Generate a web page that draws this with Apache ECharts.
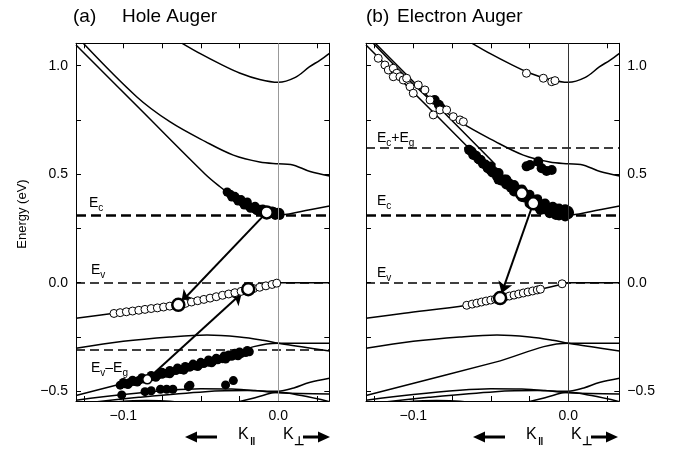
<!DOCTYPE html>
<html><head><meta charset="utf-8">
<script src="https://cdn.jsdelivr.net/npm/echarts@6/dist/echarts.min.js"></script>
<style>html,body{margin:0;padding:0;background:#fff}#c{width:678px;height:450px}</style>
</head><body><div id="c"></div><script>
const FONT = '"Liberation Sans", Arial, Helvetica, sans-serif';
// axis ranges and ticks
const xRange = [-0.1305, 0.0329];
const yRange = [-0.545, 1.103];
const xTickVals = [-0.125, -0.1, -0.075, -0.05, -0.025, 0, 0.025];
const xLabelVals = [-0.1, 0];
const yTickVals = [-0.5, -0.25, 0, 0.25, 0.5, 0.75, 1.0];
const yLabelVals = [-0.5, 0, 0.5, 1.0];
// reference levels (eV)
const levelEc = 0.312;
const levelEv = 0;
const levelEvEg = -0.312;
const levelEcEg = 0.624;
// band structure curves [k, E]
const bandTop = [[-0.062,1.103],[-0.05,1.054],[-0.0376,1.008],[-0.025,0.966],[-0.012,0.936],[0,0.923],[0.011,0.946],[0.02,0.994],[0.027,1.026],[0.033,1.057]];
const bandMid = [[-0.1258,1.103],[-0.0914,0.857],[-0.07,0.742],[-0.047,0.65],[-0.029,0.588],[-0.012,0.556],[0,0.548],[0.008,0.545],[0.0205,0.512],[0.033,0.492]];
const bandCond = [[-0.1305,1.095],[-0.0892,0.8],[-0.0473,0.501],[-0.0376,0.442],[-0.0292,0.396],[-0.0183,0.343],[-0.0075,0.32],[0,0.312],[0.014,0.327],[0.033,0.353]];
const bandQ = [[-0.1245,1.103],[-0.058,0.624],[-0.047,0.545]];
const bandV1 = [[-0.1305,-0.164],[-0.106,-0.141],[-0.0655,-0.104],[-0.044,-0.071],[-0.018,-0.03],[0,0]];
const bandV1r = [[0,0],[0.033,0]];
const bandV2 = [[-0.1305,-0.302],[-0.1,-0.27],[-0.07,-0.25],[-0.046,-0.241],[-0.025,-0.25],[-0.01,-0.265],[0,-0.279],[0.015,-0.295],[0.033,-0.315]];
const bandV3 = [[-0.1305,-0.52],[-0.047,-0.366],[0,-0.279],[0.033,-0.279]];
const bandV4 = [[-0.1305,-0.541],[-0.1,-0.515],[-0.07,-0.495],[-0.05,-0.488],[-0.03,-0.49],[-0.015,-0.497],[0,-0.507],[0.033,-0.513]];
const bandV5 = [[-0.126,-0.556],[-0.09,-0.528],[-0.047,-0.502],[-0.02,-0.497],[0,-0.5],[0.01,-0.485],[0.02,-0.46],[0.033,-0.44]];
const bandV6 = [[-0.032,-0.56],[-0.015,-0.53],[0,-0.505],[0.015,-0.52],[0.033,-0.548]];
const bandV7 = [[-0.112,-0.56],[-0.1,-0.546],[-0.085,-0.543],[-0.07,-0.546],[-0.058,-0.56]];

// Panel (a) Hole Auger carriers
const aElectrons = [[-0.033,0.418],[-0.031,0.408],[-0.029,0.398],[-0.027,0.388],[-0.025,0.378],[-0.023,0.369],[-0.021,0.36],[-0.019,0.352],[-0.017,0.345],[-0.015,0.339],[-0.013,0.334],[-0.011,0.33],[-0.009,0.327],[-0.007,0.324],[-0.005,0.321],[-0.003,0.318],[-0.001,0.316],[0.001,0.316],
  [-0.03,0.395],[-0.026,0.376],[-0.022,0.358],[-0.018,0.343],[-0.014,0.332],[-0.01,0.322],[-0.006,0.316],[-0.002,0.31],[0.001,0.31],
  [-0.02,0.372],[-0.015,0.352],[-0.01,0.34],[-0.004,0.33],[0,0.325],
  [-0.008,0.333],[-0.003,0.328],[0.001,0.322],[-0.012,0.338],[-0.024,0.383],[-0.028,0.398]];
const aHolesV1 = [[-0.106,-0.1417],[-0.102,-0.138],[-0.098,-0.134],[-0.094,-0.1305],[-0.09,-0.127],[-0.086,-0.123],[-0.082,-0.119],[-0.078,-0.116],[-0.074,-0.112],[-0.07,-0.108],[-0.066,-0.1045],
  [-0.06,-0.0955],[-0.056,-0.089],[-0.052,-0.083],[-0.048,-0.077],[-0.044,-0.071],[-0.04,-0.0645],[-0.036,-0.058],[-0.032,-0.052],[-0.028,-0.046],[-0.024,-0.04],[-0.016,-0.027],[-0.012,-0.021],[-0.008,-0.0145],[-0.004,-0.008],[-0.001,-0.002]];
const aHolesDeep = [[-0.102,-0.472],[-0.099,-0.466],[-0.096,-0.461],[-0.093,-0.455],[-0.09,-0.45],[-0.087,-0.444],[-0.081,-0.433],[-0.078,-0.428],[-0.075,-0.422],[-0.072,-0.417],[-0.069,-0.411],[-0.066,-0.405],[-0.063,-0.4],[-0.06,-0.394],[-0.057,-0.389],[-0.054,-0.383],[-0.051,-0.378],[-0.048,-0.372],[-0.045,-0.366],[-0.042,-0.361],[-0.039,-0.355],[-0.036,-0.35],[-0.033,-0.344],[-0.03,-0.339],[-0.027,-0.333],[-0.024,-0.327],[-0.021,-0.322],[-0.0187,-0.318],
  [-0.075,-0.412],[-0.065,-0.393],[-0.055,-0.375],[-0.045,-0.356],[-0.035,-0.338],[-0.028,-0.325],
  [-0.1,-0.46],[-0.094,-0.449],[-0.088,-0.438],[-0.082,-0.427],[-0.07,-0.404],[-0.06,-0.386],[-0.05,-0.367],[-0.04,-0.348],[-0.032,-0.333],[-0.025,-0.319],[-0.02,-0.312],
  [-0.097,-0.469],[-0.091,-0.458],[-0.079,-0.436],[-0.07,-0.42],[-0.061,-0.403],[-0.052,-0.386],[-0.043,-0.369],[-0.034,-0.352],[-0.026,-0.337],
  [-0.101,-0.517],[-0.086,-0.502],[-0.082,-0.498],[-0.076,-0.491],[-0.072,-0.491],[-0.068,-0.491],[-0.058,-0.479],[-0.057,-0.472],[-0.034,-0.471],[-0.029,-0.451]];
const aBigOpen = [[-0.0075,0.324],[-0.0645,-0.102],[-0.0194,-0.03]];
const aSmallOpen = [[-0.0845,-0.445]];
const aArrows = [[[-0.0075,0.324],[-0.0625,-0.088]],[[-0.0845,-0.445],[-0.0236,-0.049]]];

// Panel (b) Electron Auger carriers
const bElectrons = [[-0.064,0.612],[-0.061,0.591],[-0.058,0.57],[-0.055,0.548],[-0.052,0.527],[-0.049,0.508],[-0.046,0.489],[-0.043,0.47],[-0.04,0.453],[-0.037,0.438],[-0.034,0.424],[-0.031,0.41],[-0.028,0.392],[-0.025,0.377],[-0.022,0.362],[-0.019,0.349],[-0.016,0.339],[-0.013,0.332],[-0.01,0.327],[-0.007,0.322],[-0.004,0.318],[-0.001,0.316],
  [-0.05,0.535],[-0.045,0.505],[-0.04,0.475],[-0.035,0.45],[-0.03,0.43],[-0.025,0.405],[-0.02,0.385],[-0.015,0.365],[-0.01,0.35],[-0.006,0.342],[-0.002,0.338],[0,0.33],
  [-0.045,0.475],[-0.035,0.42],[-0.025,0.365],[-0.018,0.335],[-0.012,0.32],[-0.006,0.31],[-0.002,0.305],[0,0.315],
  [-0.0625,0.605],[-0.0595,0.585],[-0.0565,0.565],[-0.0535,0.545],[-0.0475,0.51],[-0.0415,0.475],[-0.0385,0.46],[-0.0325,0.43],[-0.0295,0.415],[-0.0265,0.4],[-0.0235,0.385],[-0.0205,0.37],[-0.0175,0.36],[-0.0145,0.35],[-0.0115,0.342],[-0.0085,0.335],[-0.0055,0.328],[-0.0025,0.325],[0.0005,0.322],[-0.03,0.395],[-0.02,0.352],[-0.008,0.312],
  [-0.0613,0.588],[-0.057,0.565],[-0.0503,0.52],
  [-0.0247,0.542],[-0.0269,0.536],[-0.0194,0.558],[-0.0172,0.527],[-0.014,0.515],[-0.0107,0.519],
  [-0.0862,0.842],[-0.082,0.804],[-0.0835,0.82]];
const bHot = [[-0.1226,1.034],[-0.1183,1.003],[-0.1161,0.98],[-0.1129,0.988],[-0.1107,0.965],[-0.1129,0.949],[-0.1086,0.949],[-0.1065,0.934],[-0.1043,0.942],[-0.1021,0.903],[-0.1,0.873],[-0.0968,0.911],[-0.0925,0.888],[-0.0892,0.842],[-0.0871,0.773],[-0.0828,0.796],[-0.0785,0.796],[-0.0742,0.765],[-0.0699,0.75],[-0.0677,0.742],
  [-0.027,0.965],[-0.0161,0.942],[-0.0107,0.926],[-0.0086,0.931]];
const bHolesV1 = [[-0.0655,-0.104],[-0.062,-0.0985],[-0.059,-0.094],[-0.056,-0.089],[-0.053,-0.0845],[-0.05,-0.08],[-0.047,-0.0753],[-0.041,-0.066],[-0.038,-0.0614],[-0.035,-0.057],[-0.032,-0.052],[-0.029,-0.0474],[-0.026,-0.0427],[-0.023,-0.038],[-0.02,-0.0335],[-0.018,-0.03],[-0.004,-0.005]];
const bBigOpen = [[-0.030,0.412],[-0.0226,0.366],[-0.044,-0.071]];
const bArrows = [[[-0.0226,0.366],[-0.043,-0.048]]];

const fmt = v => (Math.abs(v) < 1e-9 ? '0.0' : (v < 0 ? '\u2212' : '') + Math.abs(v).toFixed(1));

function xAx(gi, pos) {
  return {type:'value', gridIndex:gi, position:pos, min:xRange[0], max:xRange[1],
    axisLine:{show:true, onZero:false, lineStyle:{color:'#000', width:1}},
    axisTick:{show:true, inside:true, length:5, customValues:xTickVals, lineStyle:{color:'#000'}},
    axisLabel:{show: pos === 'bottom', customValues:xLabelVals, formatter:fmt, margin:8, fontSize:14, color:'#000', fontFamily:FONT},
    splitLine:{show:false}};
}
function yAx(gi, pos, labels) {
  return {type:'value', gridIndex:gi, position:pos, min:yRange[0], max:yRange[1],
    axisLine:{show:true, onZero:false, lineStyle:{color:'#000', width:1}},
    axisTick:{show:true, inside:true, length:5, customValues:yTickVals, lineStyle:{color:'#000'}},
    axisLabel:{show: labels, customValues:yLabelVals, formatter:fmt, margin:8, fontSize:14, color:'#000', fontFamily:FONT},
    splitLine:{show:false}};
}

function band(gi, data, z) {
  return {type:'line', xAxisIndex:gi*2, yAxisIndex:gi*2, data:data, smooth:0.35, symbol:'none', showSymbol:false,
    lineStyle:{color:'#000', width:1.5}, silent:true, z: z || 2};
}
function dots(gi, data, size, open, bw, z) {
  return {type:'scatter', xAxisIndex:gi*2, yAxisIndex:gi*2, data:data, symbol:'circle', symbolSize:size, silent:true,
    itemStyle: open ? {color:'#fff', borderColor:'#000', borderWidth:bw, opacity:1} : {color:'#000', opacity:1}, z:z};
}
function levels(gi, lines, vColor) {
  const d = lines.map(l => ({yAxis:l.v, lineStyle:{type:l.dash, width:l.w, color:'#000'}}));
  d.push({xAxis:0, lineStyle:{type:'solid', width:1, color:vColor}});
  return {type:'line', xAxisIndex:gi*2, yAxisIndex:gi*2, data:[], z:1, silent:true,
    markLine:{silent:true, animation:false, symbol:['none','none'], label:{show:false}, data:d}};
}
function arrows(gi, list) {
  return {type:'line', xAxisIndex:gi*2, yAxisIndex:gi*2, data:[], z:8, silent:true,
    markLine:{silent:true, animation:false, symbol:['none','arrow'], symbolSize:11, label:{show:false},
      lineStyle:{type:'solid', width:2, color:'#000'},
      data: list.map(p => [{coord:p[0]}, {coord:p[1]}])}};
}

const series = [];
[0,1].forEach(gi => {
  [bandTop, bandMid, bandCond, bandV1, bandV1r, bandV2, bandV3, bandV4, bandV5, bandV6, bandV7].forEach(b => series.push(band(gi, b)));
});
series.push(band(1, bandQ));
series.push(levels(0, [{v:levelEc, dash:[10,5], w:2.5},{v:levelEv, dash:[9,5], w:1.5},{v:levelEvEg, dash:[9,5], w:1.5}], '#999'));
series.push(levels(1, [{v:levelEc, dash:[10,5], w:2.5},{v:levelEv, dash:[9,5], w:1.5},{v:levelEcEg, dash:[9,5], w:1.5}], '#333'));
series.push(dots(0, aElectrons, 9, false, 0, 4));
series.push(dots(0, aHolesDeep, 9, false, 0, 4));
series.push(dots(0, aHolesV1, 8, true, 1, 5));
series.push(dots(0, aSmallOpen, 9, true, 1.5, 7));
series.push(dots(0, aBigOpen, 12, true, 2.5, 9));
series.push(arrows(0, aArrows));
series.push(dots(1, bElectrons, 10, false, 0, 4));
series.push(dots(1, bHot, 8, true, 1, 5));
series.push(dots(1, bHolesV1, 8, true, 1, 5));
series.push(dots(1, bBigOpen, 12, true, 2.5, 9));
series.push(arrows(1, bArrows));

// text helpers
const mctx = document.createElement('canvas').getContext('2d');
function tw(t, fs) { mctx.font = fs + 'px ' + FONT; return mctx.measureText(t).width; }
function subLabel(x, y, parts, fs, sfs) {
  fs = fs || 14; sfs = sfs || 10;
  const els = []; let cx = x;
  parts.forEach(p => {
    const t = p[0], s = p[1]; const f = s ? sfs : fs;
    els.push({type:'text', x:cx, y: s ? y + 5 : y, z:20, style:{text:t, font: f + 'px ' + FONT, fill:'#000', verticalAlign:'middle', align:'left'}});
    cx += tw(t, f);
  });
  return els;
}
function arrowShape(x1, x2, y, dir) {
  const head = 12, hh = 5.5;
  const tip = dir < 0 ? x1 : x2;
  const base = tip - dir * head;
  const shaftStart = dir < 0 ? base : x1, shaftEnd = dir < 0 ? x2 : base;
  return [
    {type:'rect', z:20, shape:{x:shaftStart, y:y-1.5, width:shaftEnd-shaftStart, height:3}, style:{fill:'#000'}},
    {type:'polygon', z:20, shape:{points:[[tip,y],[base,y-hh],[base,y+hh]]}, style:{fill:'#000'}}
  ];
}
function kLabels(x0) {
  let els = [];
  els = els.concat(arrowShape(x0, x0 + 32, 437, -1));
  els = els.concat(subLabel(x0 + 53, 435, [['K', false]], 16));
  els.push({type:'text', x:x0 + 65, y:442, z:20, style:{text:'\u2016', font:'bold 11px ' + FONT, fill:'#000', verticalAlign:'middle'}});
  els = els.concat(subLabel(x0 + 98, 435, [['K', false]], 16));
  els.push({type:'text', x:x0 + 109, y:442, z:20, style:{text:'\u22A5', font:'bold 12px ' + FONT, fill:'#000', verticalAlign:'middle'}});
  els = els.concat(arrowShape(x0 + 118, x0 + 145, 437, 1));
  return els;
}

let graphics = [];
graphics.push({type:'text', x:73, y:17, style:{text:'(a)', font:'19px ' + FONT, fill:'#000', verticalAlign:'middle'}});
graphics.push({type:'text', x:122, y:17, style:{text:'Hole Auger', font:'19px ' + FONT, fill:'#000', verticalAlign:'middle'}});
graphics.push({type:'text', x:366, y:17, style:{text:'(b)', font:'19px ' + FONT, fill:'#000', verticalAlign:'middle'}});
graphics.push({type:'text', x:397, y:17, style:{text:'Electron Auger', font:'19px ' + FONT, fill:'#000', verticalAlign:'middle'}});
graphics.push({type:'text', x:22, y:214, rotation:Math.PI/2, style:{text:'Energy (eV)', font:'13px ' + FONT, fill:'#000', align:'center', verticalAlign:'middle'}});
graphics = graphics.concat(subLabel(89, 203, [['E', false],['c', true]]));
graphics = graphics.concat(subLabel(91, 270, [['E', false],['v', true]]));
graphics = graphics.concat(subLabel(91, 368, [['E', false],['v', true],['\u2013E', false],['g', true]]));
graphics = graphics.concat(subLabel(377, 138, [['E', false],['c', true],['+E', false],['g', true]]));
graphics = graphics.concat(subLabel(377, 201, [['E', false],['c', true]]));
graphics = graphics.concat(subLabel(377, 273, [['E', false],['v', true]]));
graphics = graphics.concat(kLabels(185));
graphics = graphics.concat(kLabels(473));

const chart = echarts.init(document.getElementById('c'), null, {renderer:'canvas'});
chart.setOption({
  animation:false,
  backgroundColor:'#fff',
  grid:[{left:76, top:43.3, width:253.3, height:357.7},{left:366, top:43.3, width:253.3, height:357.7}],
  xAxis:[xAx(0,'bottom'), xAx(0,'top'), xAx(1,'bottom'), xAx(1,'top')],
  yAxis:[yAx(0,'left',true), yAx(0,'right',false), yAx(1,'left',false), yAx(1,'right',true)],
  series: series,
  graphic: graphics
});
</script></body></html>
